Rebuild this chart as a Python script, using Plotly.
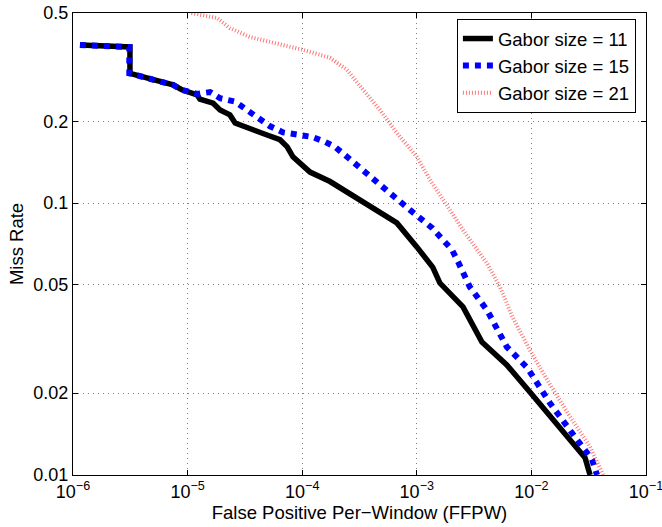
import plotly.graph_objects as go

# Gabor size = 11
x11 = [1.15e-6, 3.14e-6, 3.14e-6, 7.46e-6, 8.9e-6, 1.21e-5, 1.28e-5, 1.67e-5, 1.92e-5, 2.34e-5,
       2.6e-5, 3.3e-5, 4.93e-5, 6.4e-5, 7.4e-5, 8.3e-5, 1.02e-4, 1.17e-4, 1.75e-4, 3.19e-4,
       6.7e-4, 1.0e-3, 1.38e-3, 1.59e-3, 2.53e-3, 3.7e-3, 6.1e-3, 9.7e-3, 0.0178, 0.0294, 0.0325]
y11 = [0.381, 0.375, 0.30, 0.272, 0.261, 0.25, 0.241, 0.233, 0.22, 0.211,
       0.197, 0.189, 0.178, 0.171, 0.161, 0.148, 0.136, 0.13, 0.12, 0.103,
       0.0845, 0.069, 0.058, 0.0508, 0.0415, 0.0308, 0.0254, 0.0202, 0.015, 0.01157, 0.01]

# Gabor size = 15
x15 = [1.15e-6, 3.1e-6, 3.1e-6, 7.46e-6, 8.9e-6, 1.21e-5, 1.57e-5, 1.92e-5, 2.6e-5, 3.3e-5,
       4.1e-5, 5.2e-5, 6.8e-5, 9.6e-5, 1.22e-4, 1.58e-4, 1.93e-4, 2.46e-4, 3.75e-4, 5.83e-4,
       8.7e-4, 1.36e-3, 2.03e-3, 2.29e-3, 2.9e-3, 4.1e-3, 6.1e-3, 9.2e-3, 0.0145, 0.024, 0.0338, 0.0374]
y15 = [0.381, 0.375, 0.30, 0.272, 0.261, 0.252, 0.256, 0.243, 0.236, 0.22,
       0.207, 0.192, 0.182, 0.178, 0.175, 0.168, 0.161, 0.148, 0.127, 0.109,
       0.0944, 0.081, 0.0673, 0.0608, 0.0492, 0.0404, 0.0296, 0.0248, 0.0184, 0.0138, 0.0114, 0.01]

# Gabor size = 21
x21 = [1.08e-5, 1.81e-5, 2.34e-5, 3.5e-5, 6.8e-5, 1.02e-4, 1.75e-4, 2.46e-4, 3.4e-4, 4.78e-4,
       6.7e-4, 1.0e-3, 1.3e-3, 1.84e-3, 2.53e-3, 4.1e-3, 5.3e-3, 6.9e-3, 9.7e-3, 0.0137,
       0.0217, 0.0325, 0.0422]
y21 = [0.5, 0.479, 0.44, 0.408, 0.381, 0.366, 0.342, 0.309, 0.261, 0.22,
       0.181, 0.148, 0.122, 0.097, 0.0796, 0.06, 0.0492, 0.0378, 0.0288, 0.0224,
       0.0164, 0.0127, 0.01]

x_tickvals = [1e-6, 1e-5, 1e-4, 1e-3, 1e-2, 1e-1]
x_ticktext = ["10<sup>\u22126</sup>", "10<sup>\u22125</sup>", "10<sup>\u22124</sup>",
              "10<sup>\u22123</sup>", "10<sup>\u22122</sup>", "10<sup>\u22121</sup>"]
y_tickvals = [0.01, 0.02, 0.05, 0.1, 0.2, 0.5]
y_ticktext = ["0.01", "0.02", "0.05", "0.1", "0.2", "0.5"]

fig = go.Figure()
fig.add_trace(go.Scatter(x=x11, y=y11, mode="lines", name="Gabor size = 11",
                         line=dict(color="black", width=5.5)))
fig.add_trace(go.Scatter(x=x15, y=y15, mode="lines", name="Gabor size = 15",
                         line=dict(color="blue", width=6, dash="6px,6px")))
fig.add_trace(go.Scatter(x=x21, y=y21, mode="lines", name="Gabor size = 21",
                         line=dict(color="rgba(255,70,70,0.75)", width=4, dash="1px,2px")))

FAM = "Liberation Sans"
font = dict(family=FAM, size=18, color="black")
fig.update_layout(
    width=662, height=527,
    margin=dict(l=73, r=16, t=13, b=52, autoexpand=False),
    paper_bgcolor="white", plot_bgcolor="white",
    font=font,
    showlegend=True,
    legend=dict(x=0.67, y=0.987, xanchor="left", yanchor="top",
                bordercolor="black", borderwidth=1, bgcolor="white",
                font=dict(family=FAM, size=18.5, color="black"),
                tracegroupgap=0, itemwidth=30),
)
fig.update_xaxes(type="log", range=[-6, -1], tickvals=x_tickvals, ticktext=x_ticktext,
                 tickfont=dict(family=FAM, size=18, color="black"),
                 ticklabeloverflow="allow", automargin=False,
                 showline=True, linecolor="black", linewidth=1, mirror="ticks",
                 ticks="inside", ticklen=5, tickcolor="black",
                 showgrid=True, gridcolor="#808080", griddash="1px,4px", gridwidth=1,
                 zeroline=False,
                 title=dict(text="False Positive Per\u2212Window (FFPW)", standoff=0,
                            font=dict(family=FAM, size=18.5, color="black")))
fig.update_yaxes(type="log", range=[-2, 0.69897 - 1], tickvals=y_tickvals, ticktext=y_ticktext,
                 tickfont=dict(family=FAM, size=18, color="black"),
                 ticklabeloverflow="allow", automargin=False,
                 showline=True, linecolor="black", linewidth=1, mirror="ticks",
                 ticks="inside", ticklen=5, tickcolor="black",
                 showgrid=True, gridcolor="#808080", griddash="1px,4px", gridwidth=1,
                 zeroline=False,
                 title=dict(text="Miss Rate", standoff=4,
                            font=dict(family=FAM, size=18.5, color="black")))

fig.write_html("out.html")
